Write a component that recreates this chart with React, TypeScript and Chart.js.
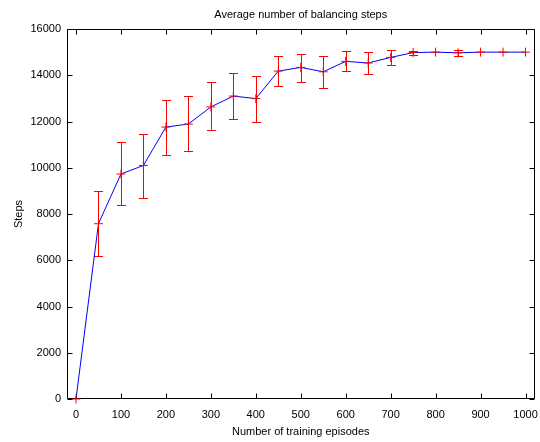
import React, { useEffect, useRef } from "react";
import { Chart, registerables } from "chart.js";

Chart.register(...registerables);

const episodes = [0, 50, 100, 150, 200, 250, 300, 350, 400, 450, 500, 550, 600, 650, 700, 750, 800, 850, 900, 950, 1000];
const meanSteps = [0, 7580, 9730, 10100, 11760, 11890, 12630, 13100, 12990, 14180, 14340, 14150, 14600, 14530, 14770, 14980, 15000, 14970, 15000, 15000, 15000];
const lowerSteps = [0, 6170, 8370, 8710, 10540, 10720, 11620, 12120, 11990, 13540, 13690, 13430, 14200, 14050, 14430, 14880, 15000, 14850, 15000, 15000, 15000];
const upperSteps = [0, 8980, 11130, 11470, 12910, 13100, 13720, 14100, 13950, 14850, 14930, 14850, 15060, 15020, 15110, 15070, 15000, 15100, 15000, 15000, 15000];
const xTickValues = [0, 100, 200, 300, 400, 500, 600, 700, 800, 900, 1000];
const yTickValues = [0, 2000, 4000, 6000, 8000, 10000, 12000, 14000, 16000];
const chartTitle = "Average number of balancing steps";
const xAxisTitle = "Number of training episodes";
const yAxisTitle = "Steps";

const FONT_FAMILY = "'Liberation Sans', Arial, Helvetica, sans-serif";
const FONT = { family: FONT_FAMILY, size: 11 };

const framePlugin = {
  id: "frameAndErrors",
  beforeDatasetsDraw(chart: any) {
    const { ctx, chartArea, scales } = chart;
    const xs = scales.x;
    const ys = scales.y;
    const l = Math.round(chartArea.left) + 0.5;
    const r = Math.round(chartArea.right) - 0.5;
    const t = Math.round(chartArea.top) + 0.5;
    const b = Math.round(chartArea.bottom) - 0.5;
    ctx.save();
    // frame
    ctx.strokeStyle = "#000";
    ctx.lineWidth = 1;
    ctx.beginPath();
    ctx.rect(l, t, r - l, b - t);
    ctx.stroke();
    // inward ticks
    const tl = 5;
    ctx.beginPath();
    xTickValues.forEach((v) => {
      const px = Math.round(xs.getPixelForValue(v)) + 0.5;
      ctx.moveTo(px, b);
      ctx.lineTo(px, b - tl);
      ctx.moveTo(px, t);
      ctx.lineTo(px, t + tl);
    });
    yTickValues.forEach((v) => {
      const py = Math.round(ys.getPixelForValue(v)) + 0.5;
      ctx.moveTo(l, py);
      ctx.lineTo(l + tl, py);
      ctx.moveTo(r, py);
      ctx.lineTo(r - tl, py);
    });
    ctx.stroke();
    // title
    ctx.fillStyle = "#000";
    ctx.font = `${FONT.size}px ${FONT_FAMILY}`;
    ctx.textAlign = "center";
    ctx.textBaseline = "middle";
    ctx.fillText(chartTitle, (chartArea.left + chartArea.right) / 2, 15);
    // error bars
    ctx.strokeStyle = "#ff0000";
    ctx.beginPath();
    const cap = 4.5;
    episodes.forEach((e, i) => {
      if (upperSteps[i] === lowerSteps[i]) return;
      const px = Math.round(xs.getPixelForValue(e)) + 0.5;
      const lo = Math.round(ys.getPixelForValue(lowerSteps[i])) + 0.5;
      const hi = Math.round(ys.getPixelForValue(upperSteps[i])) + 0.5;
      ctx.moveTo(px, lo);
      ctx.lineTo(px, hi);
      ctx.moveTo(px - cap, lo);
      ctx.lineTo(px + cap, lo);
      ctx.moveTo(px - cap, hi);
      ctx.lineTo(px + cap, hi);
    });
    ctx.stroke();
    ctx.restore();
  },
};

export default function App() {
  const canvasRef = useRef<HTMLCanvasElement | null>(null);

  useEffect(() => {
    const canvas = canvasRef.current;
    if (!canvas) return;
    const chart = new Chart(canvas, {
      type: "line",
      data: {
        datasets: [
          {
            data: episodes.map((e, i) => ({ x: e, y: meanSteps[i] })),
            borderColor: "#0000ff",
            backgroundColor: "#ff0000",
            borderWidth: 1,
            pointStyle: "cross",
            pointRadius: 4.5,
            pointBorderColor: "#ff0000",
            pointBorderWidth: 1,
            pointHoverRadius: 4.5,
            tension: 0,
            fill: false,
            clip: false as any,
          },
        ],
      },
      options: {
        animation: false,
        responsive: false,
        devicePixelRatio: 1,
        events: [],
        layout: { padding: { top: 29, right: 3, left: 0, bottom: 0 } },
        plugins: {
          legend: { display: false },
          title: { display: false },
          tooltip: { enabled: false },
        },
        scales: {
          x: {
            type: "linear",
            min: -20,
            max: 1020,
            afterBuildTicks: (s: any) => {
              s.ticks = xTickValues.map((v) => ({ value: v }));
            },
            afterFit: (s: any) => {
              s.height = 43;
              s.paddingLeft = 0;
              s.paddingRight = 0;
              s.paddingTop = 0;
              s.paddingBottom = 0;
            },
            grid: { display: false, drawTicks: false },
            border: { display: false },
            ticks: {
              color: "#000",
              font: FONT,
              padding: 9,
              maxRotation: 0,
              autoSkip: false,
              callback: (v: any) => String(v),
            },
            title: { display: true, text: xAxisTitle, color: "#000", font: FONT, padding: 3 },
          },
          y: {
            type: "linear",
            min: 0,
            max: 16000,
            afterBuildTicks: (s: any) => {
              s.ticks = yTickValues.map((v) => ({ value: v }));
            },
            afterFit: (s: any) => {
              s.width = 67;
              s.paddingLeft = 0;
              s.paddingRight = 0;
              s.paddingTop = 0;
              s.paddingBottom = 0;
            },
            grid: { display: false, drawTicks: false },
            border: { display: false },
            ticks: {
              color: "#000",
              font: FONT,
              padding: 6,
              autoSkip: false,
              callback: (v: any) => String(v),
            },
            title: { display: true, text: yAxisTitle, color: "#000", font: FONT, padding: 12 },
          },
        },
      },
      plugins: [framePlugin],
    });
    return () => chart.destroy();
  }, []);

  return (
    <div style={{ position: "fixed", left: 0, top: 0, width: 540, height: 442, background: "#fff" }}>
      <canvas ref={canvasRef} width={540} height={442} style={{ display: "block" }} />
    </div>
  );
}
